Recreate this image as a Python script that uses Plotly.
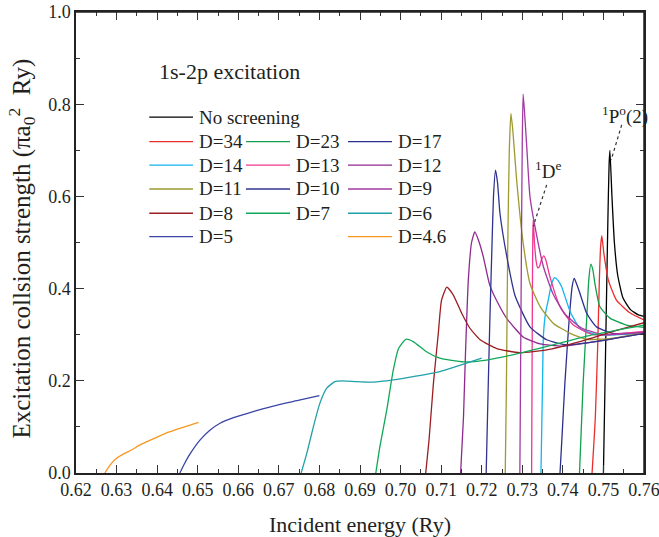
import plotly.graph_objects as go

# ---------------- data ----------------
x_nos = [0.7500, 0.7504, 0.7508, 0.7511, 0.7514, 0.7516, 0.7521, 0.7527, 0.7535, 0.7548, 0.7566, 0.7586, 0.7600]
y_nos = [0.0, 0.20, 0.40, 0.55, 0.67, 0.700, 0.60, 0.50, 0.43, 0.38, 0.355, 0.343, 0.340]

x_d34 = [0.7472, 0.7480, 0.7486, 0.7490, 0.7493, 0.7496, 0.7501, 0.7512, 0.7532, 0.7566, 0.7600]
y_d34 = [0.0, 0.12, 0.28, 0.42, 0.49, 0.515, 0.477, 0.419, 0.375, 0.347, 0.332]

x_d23 = [0.7441, 0.7450, 0.7459, 0.7464, 0.7469, 0.7474, 0.7479, 0.7491, 0.7516, 0.7557, 0.7600]
y_d23 = [0.0, 0.195, 0.339, 0.42, 0.453, 0.44, 0.411, 0.361, 0.336, 0.321, 0.316]

x_d17 = [0.7393, 0.7398, 0.7405, 0.7416, 0.7423, 0.7428, 0.7434, 0.7442, 0.7459, 0.7483, 0.7524, 0.7600]
y_d17 = [0.0, 0.08, 0.195, 0.339, 0.405, 0.422, 0.41, 0.39, 0.346, 0.317, 0.303, 0.305]

x_d14 = [0.7346, 0.7348, 0.7350, 0.7352, 0.7357, 0.7364, 0.7372, 0.7380, 0.7388, 0.7397, 0.7418, 0.7442, 0.7483, 0.7600]
y_d14 = [0.0, 0.10, 0.20, 0.296, 0.345, 0.375, 0.41, 0.424, 0.418, 0.404, 0.35, 0.314, 0.300, 0.303]

x_d13 = [0.7323, 0.7324, 0.7325, 0.7326, 0.7327, 0.7330, 0.7334, 0.7338, 0.7342, 0.7347, 0.7353, 0.7358, 0.7368, 0.7393, 0.7426, 0.7475, 0.7600]
y_d13 = [0.0, 0.20, 0.40, 0.52, 0.549, 0.50, 0.46, 0.445, 0.447, 0.462, 0.471, 0.462, 0.426, 0.361, 0.321, 0.300, 0.307]

x_d12 = [0.7148, 0.7155, 0.7160, 0.7167, 0.7175, 0.7183, 0.7192, 0.7204, 0.7220, 0.7245, 0.7262, 0.7302, 0.7344, 0.7400, 0.7480, 0.7600]
y_d12 = [0.0, 0.12, 0.26, 0.419, 0.50, 0.523, 0.505, 0.469, 0.407, 0.36, 0.335, 0.295, 0.28, 0.275, 0.285, 0.303]

x_d11 = [0.7258, 0.7261, 0.7264, 0.7268, 0.7272, 0.7277, 0.7286, 0.7302, 0.7319, 0.7344, 0.7376, 0.7418, 0.7459, 0.7520, 0.7600]
y_d11 = [0.0, 0.20, 0.48, 0.70, 0.780, 0.74, 0.636, 0.50, 0.411, 0.361, 0.325, 0.303, 0.290, 0.292, 0.305]

x_d10 = [0.7211, 0.7215, 0.7220, 0.7225, 0.7229, 0.7234, 0.7239, 0.7245, 0.7262, 0.7282, 0.7319, 0.7360, 0.7410, 0.7480, 0.7600]
y_d10 = [0.0, 0.15, 0.33, 0.484, 0.60, 0.657, 0.63, 0.563, 0.469, 0.385, 0.317, 0.289, 0.278, 0.285, 0.303]

x_d9 = [0.7294, 0.7296, 0.7298, 0.7300, 0.7302, 0.7305, 0.7311, 0.7319, 0.7336, 0.7352, 0.7375, 0.7405, 0.7445, 0.7500, 0.7600]
y_d9 = [0.0, 0.25, 0.50, 0.72, 0.822, 0.79, 0.708, 0.599, 0.513, 0.448, 0.39, 0.345, 0.315, 0.300, 0.305]

x_d8 = [0.7062, 0.7070, 0.7081, 0.7093, 0.7101, 0.7114, 0.7130, 0.7151, 0.7171, 0.7196, 0.7237, 0.7294, 0.7360, 0.7442, 0.7524, 0.7600]
y_d8 = [0.0, 0.07, 0.195, 0.303, 0.375, 0.403, 0.386, 0.346, 0.314, 0.289, 0.270, 0.261, 0.267, 0.285, 0.307, 0.326]

x_d7 = [0.6939, 0.6949, 0.6966, 0.6982, 0.6995, 0.7013, 0.7031, 0.7064, 0.7097, 0.7155, 0.7212, 0.7294, 0.7376, 0.7475, 0.7600]
y_d7 = [0.0, 0.057, 0.137, 0.223, 0.270, 0.290, 0.285, 0.263, 0.249, 0.241, 0.245, 0.260, 0.278, 0.300, 0.321]

x_d6 = [0.6755, 0.6769, 0.6785, 0.6801, 0.6818, 0.6838, 0.6859, 0.6892, 0.6933, 0.6982, 0.7031, 0.7097, 0.7200]
y_d6 = [0.0, 0.043, 0.100, 0.151, 0.184, 0.198, 0.200, 0.198, 0.197, 0.202, 0.209, 0.220, 0.249]

x_d5 = [0.6456, 0.6466, 0.6480, 0.6506, 0.6530, 0.6555, 0.6585, 0.6621, 0.6660, 0.6703, 0.6750, 0.6800]
y_d5 = [0.0, 0.018, 0.040, 0.072, 0.093, 0.108, 0.119, 0.129, 0.139, 0.149, 0.158, 0.168]

x_d46 = [0.6271, 0.6284, 0.6300, 0.6321, 0.6337, 0.6360, 0.6400, 0.6430, 0.6456, 0.6502]
y_d46 = [0.0, 0.017, 0.032, 0.043, 0.050, 0.062, 0.078, 0.089, 0.097, 0.110]

series_names = ["No screening", "D=34", "D=23", "D=17", "D=14", "D=13", "D=12",
                "D=11", "D=10", "D=9", "D=8", "D=7", "D=6", "D=5", "D=4.6"]
series_x = [x_nos, x_d34, x_d23, x_d17, x_d14, x_d13, x_d12, x_d11, x_d10, x_d9, x_d8, x_d7, x_d6, x_d5, x_d46]
series_y = [y_nos, y_d34, y_d23, y_d17, y_d14, y_d13, y_d12, y_d11, y_d10, y_d9, y_d8, y_d7, y_d6, y_d5, y_d46]
series_colors = ["#000000", "#ec2d2d", "#12a04e", "#2b2f8e", "#12b4ee", "#f0368e", "#8e2a8e",
                 "#9d9a30", "#30348f", "#a23aa2", "#9a1e22", "#10a858", "#20a0a8", "#3a45a6", "#f7981f"]

x_ticks = [0.62, 0.63, 0.64, 0.65, 0.66, 0.67, 0.68, 0.69, 0.70, 0.71, 0.72, 0.73, 0.74, 0.75, 0.76]
y_ticks = [0.0, 0.2, 0.4, 0.6, 0.8, 1.0]

FONT = "Liberation Serif"
TXT = "#231f20"

fig = go.Figure()
for name, xs, ys, col in zip(series_names, series_x, series_y, series_colors):
    fig.add_trace(go.Scatter(x=xs, y=ys, mode="lines", name=name,
                             line=dict(color=col, width=1.3, shape="spline", smoothing=0.5),
                             showlegend=False, hoverinfo="skip"))

# ---------------- custom legend (grid like the reference) ----------------
leg_rows = [0.7719, 0.7190, 0.6678, 0.6161, 0.5635, 0.5128]
leg_cols = [(0.129, 0.206, 0.2125), (0.2993, 0.3768, 0.3830), (0.4789, 0.5563, 0.5625)]
leg_layout = [(0, 0, 0), (1, 1, 0), (2, 1, 1), (3, 1, 2), (4, 2, 0), (5, 2, 1), (6, 2, 2),
              (7, 3, 0), (8, 3, 1), (9, 3, 2), (10, 4, 0), (11, 4, 1), (12, 4, 2),
              (13, 5, 0), (14, 5, 2)]
shapes = []
annotations = []
for idx, r, c in leg_layout:
    x0, x1, xt = leg_cols[c]
    yy = leg_rows[r]
    shapes.append(dict(type="line", xref="paper", yref="paper", x0=x0, x1=x1, y0=yy, y1=yy,
                       line=dict(color=series_colors[idx], width=1.3)))
    annotations.append(dict(xref="paper", yref="paper", x=xt, y=yy, text=series_names[idx],
                            showarrow=False, xanchor="left", yanchor="middle",
                            font=dict(family=FONT, size=19, color=TXT)))

# title text inside the plot
annotations.append(dict(xref="paper", yref="paper", x=0.143, y=0.87, text="1s-2p excitation",
                        showarrow=False, xanchor="left", yanchor="middle",
                        font=dict(family=FONT, size=22, color=TXT)))
# resonance labels
annotations.append(dict(xref="x", yref="y", x=0.7363, y=0.627, text="<sup>1</sup>D<sup>e</sup>",
                        showarrow=False, xanchor="center", yanchor="bottom",
                        font=dict(family=FONT, size=19, color=TXT)))
annotations.append(dict(xref="x", yref="y", x=0.7553, y=0.745, text="<sup>1</sup>P<sup>o</sup>(2)",
                        showarrow=False, xanchor="center", yanchor="bottom",
                        font=dict(family=FONT, size=19, color=TXT)))
# y-axis title as a rotated annotation (placed like the reference)
annotations.append(dict(xref="paper", yref="paper", x=-0.095, y=0.487, textangle=-90,
                        text="Excitation collsion strength (πa<sub>0</sub><sup>2</sup>\u00a0\u00a0Ry)",
                        showarrow=False, xanchor="center", yanchor="middle",
                        font=dict(family=FONT, size=25, color=TXT)))
shapes.append(dict(type="line", xref="x", yref="y", x0=0.7360, y0=0.625, x1=0.7327, y1=0.535,
                   line=dict(color="#333", width=1.2, dash="dot")))
shapes.append(dict(type="line", xref="x", yref="y", x0=0.7545, y0=0.755, x1=0.7519, y1=0.679,
                   line=dict(color="#333", width=1.2, dash="dot")))
# top and right frame lines
shapes.append(dict(type="line", xref="paper", yref="paper", x0=0, x1=1, y0=1, y1=1,
                   line=dict(color="#222", width=1.5), layer="above"))
shapes.append(dict(type="line", xref="paper", yref="paper", x0=1, x1=1, y0=0, y1=1,
                   line=dict(color="#222", width=1.5), layer="above"))

fig.update_layout(
    width=659, height=537,
    margin=dict(l=76, r=15, t=12, b=64),
    plot_bgcolor="white", paper_bgcolor="white",
    font=dict(family=FONT, size=18, color=TXT),
    shapes=shapes, annotations=annotations,
    showlegend=False,
)
fig.update_xaxes(range=[0.62, 0.76], tickvals=x_ticks, ticktext=[f"{v:.2f}" for v in x_ticks],
                 ticks="inside", ticklen=8, tickwidth=1.2, tickcolor="#333",
                 minor=dict(dtick=0.005, tick0=0.62, ticks="inside", ticklen=4, tickcolor="#333", tickwidth=1.2),
                 showline=True, linecolor="#222", linewidth=1.5, mirror="ticks", showgrid=False, zeroline=False,
                 automargin=False, ticklabeloverflow="allow",
                 title=dict(text="Incident energy (Ry)", font=dict(family=FONT, size=22), standoff=17),
                 tickfont=dict(family=FONT, size=18))
fig.update_yaxes(range=[0, 1.0], tickvals=y_ticks, ticktext=[f"{v:.1f}" for v in y_ticks],
                 ticks="inside", ticklen=8, tickwidth=1.2, tickcolor="#333",
                 minor=dict(dtick=0.1, tick0=0, ticks="inside", ticklen=4, tickcolor="#333", tickwidth=1.2),
                 showline=True, linecolor="#222", linewidth=1.5, mirror="ticks", showgrid=False, zeroline=False,
                 automargin=False, ticklabeloverflow="allow",
                 tickfont=dict(family=FONT, size=18))

# remove the default page margin so the 659x537 figure fills the window exactly
fig.write_html("out.html", config={"displayModeBar": False},
               post_script="document.body.style.margin='0';document.body.style.overflow='hidden';")
